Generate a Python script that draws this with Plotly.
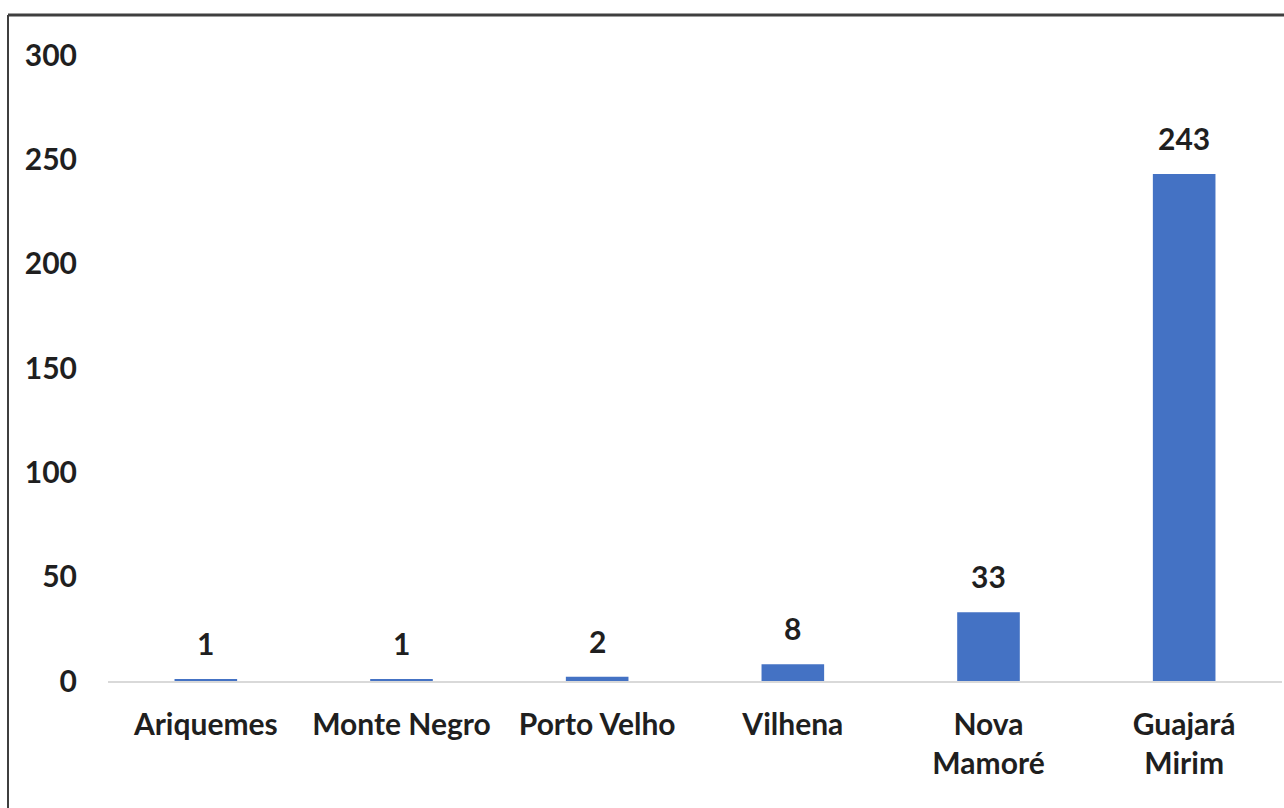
import plotly.graph_objects as go

# Cities and counts
cities = ["Ariquemes", "Monte Negro", "Porto Velho", "Vilhena", "Nova<br>Mamoré", "Guajará<br>Mirim"]
counts = [1, 1, 2, 8, 33, 243]
y_ticks = [0, 50, 100, 150, 200, 250, 300]

FONT = "Lato"
FS = 30
TEXT_COLOR = "#1f1f1f"
BAR_COLOR = "#4472C4"

fig = go.Figure(
    go.Bar(
        x=cities,
        y=counts,
        marker=dict(color=BAR_COLOR, line=dict(width=0)),
        width=0.32,
        hoverinfo="x+y",
    )
)

# Value labels above each bar
for c, v in zip(cities, counts):
    fig.add_annotation(
        x=c, y=v, text=f"<b>{v}</b>", showarrow=False,
        yanchor="bottom", yshift=16,
        font=dict(family=FONT, size=FS, color=TEXT_COLOR),
    )

W, H = 1284, 808
L, R, T, B = 108, 2, 55, 127
pw, ph = W - L - R, H - T - B

# Outer frame (top and left edges visible)
fx0 = (8 - L) / pw
fy1 = (H - 15 - B) / ph
fig.add_shape(type="line", xref="paper", yref="paper",
              x0=fx0, x1=(W + 20 - L) / pw, y0=fy1, y1=fy1,
              line=dict(color="#3f3f3f", width=3))
fig.add_shape(type="line", xref="paper", yref="paper",
              x0=fx0, x1=fx0, y0=fy1, y1=(-20 - B) / ph,
              line=dict(color="#3f3f3f", width=2))

fig.update_layout(
    width=W, height=H,
    margin=dict(l=L, r=R, t=T, b=B, pad=0),
    paper_bgcolor="white",
    plot_bgcolor="white",
    showlegend=False,
    bargap=0.68,
    font=dict(family=FONT, size=FS, color=TEXT_COLOR),
)
fig.update_xaxes(
    tickfont=dict(family=FONT, size=FS, color=TEXT_COLOR, weight="bold"),
    showline=True, linecolor="#d9d9d9", linewidth=2,
    ticks="", showgrid=False, ticklabelstandoff=16,
)
fig.update_yaxes(
    range=[0, 300], tickvals=y_ticks,
    tickfont=dict(family=FONT, size=FS, color=TEXT_COLOR, weight="bold"),
    showgrid=False, zeroline=False, showline=False, ticks="",
    ticklabelstandoff=30,
)

fig.write_html("out.html")
